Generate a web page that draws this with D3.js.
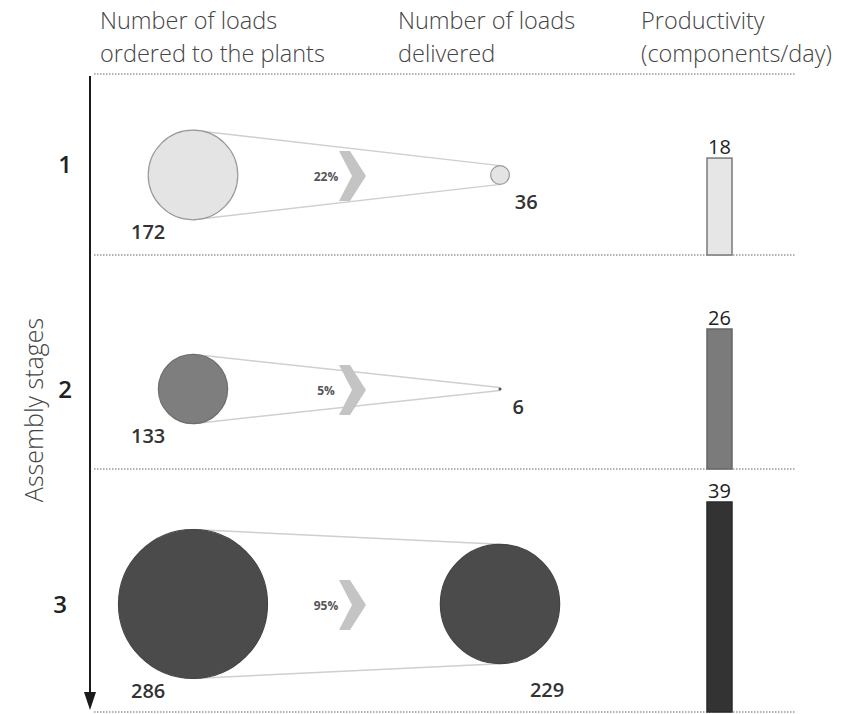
<!DOCTYPE html>
<html>
<head>
<meta charset="utf-8">
<script src="https://cdn.jsdelivr.net/npm/d3@7"></script>
<style>
  html, body { margin: 0; padding: 0; background: #fff; }
  svg { display: block; }
  text { font-family: "Open Sans", "Noto Sans", sans-serif; }
</style>
</head>
<body>
<svg id="chart" width="849" height="714"></svg>
<script>
// Assembly stages and what happened at each one
const stages = ["1", "2", "3"];
const loadsOrdered = [172, 133, 286];
const loadsDelivered = [36, 6, 229];
const deliveryShare = ["22%", "5%", "95%"];
const productivity = [18, 26, 39];

const headers = [
  ["Number of loads", "ordered to the plants"],
  ["Number of loads", "delivered"],
  ["Productivity", "(components/day)"]
];

// Visual styling per stage
const circleFill = ["#e4e4e4", "#7e7e7e", "#4b4b4b"];
const circleStroke = ["#9a9a9a", "#6e6e6e", "#444"];
const barFill = ["#e6e6e6", "#7b7b7b", "#333333"];
const barStroke = ["#7a7a7a", "#666", "#2a2a2a"];

// Layout
const rowEdges = [74, 255, 469, 712];
const rowCenterY = [175, 389, 604];
const orderedX = 193;
const deliveredX = 500;
const barX = 707, barW = 25;
const lineLeft = 94, lineRight = 795;

const svg = d3.select("#chart");

// Circle radius grows linearly with the number of loads
const r = d3.scaleLinear().domain([0, 286]).range([0, 74.5]);
// Bar height grows linearly with productivity
const barH = d3.scaleLinear().domain([0, 39]).range([0, 210]);

// Column headers
headers.forEach((lines, i) => {
  const x = [100, 398, 641][i];
  const t = svg.append("text")
    .attr("font-size", 23.5).attr("font-weight", 300)
    .attr("fill", "#444");
  lines.forEach((l, j) => {
    t.append("tspan").attr("x", x).attr("y", 29 + j * 33).text(l);
  });
});

// Row separators
svg.selectAll("line.sep").data(rowEdges).join("line")
  .attr("class", "sep")
  .attr("x1", lineLeft).attr("x2", lineRight)
  .attr("y1", d => d).attr("y2", d => d)
  .attr("stroke", "#999").attr("stroke-width", 1.5)
  .attr("stroke-dasharray", "1.5,1.5");

// Vertical stage axis with arrow
svg.append("line")
  .attr("x1", 90).attr("x2", 90).attr("y1", 76).attr("y2", 696)
  .attr("stroke", "#1a1a1a").attr("stroke-width", 2);
svg.append("path")
  .attr("d", "M84,692 L96,692 L90,710 Z")
  .attr("fill", "#1a1a1a");

svg.append("text")
  .attr("transform", "translate(33,410) rotate(-90)")
  .attr("text-anchor", "middle").attr("dominant-baseline", "central")
  .attr("font-size", 25).attr("font-weight", 300).attr("fill", "#444")
  .text("Assembly stages");

const rows = svg.selectAll("g.stage").data(stages).join("g").attr("class", "stage");

rows.each(function(s, i) {
  const g = d3.select(this);
  const cy = rowCenterY[i];
  const r1 = r(loadsOrdered[i]);
  const r2 = r(loadsDelivered[i]);

  // Stage number
  g.append("text")
    .attr("x", i === 2 ? 60 : 65).attr("y", i === 0 ? 163 : cy - 1)
    .attr("text-anchor", "middle").attr("dominant-baseline", "central")
    .attr("font-size", 24).attr("font-weight", 600).attr("fill", "#222")
    .text(s);

  // Funnel lines joining the two circles
  g.append("line")
    .attr("x1", orderedX).attr("y1", cy - r1)
    .attr("x2", deliveredX).attr("y2", cy - r2)
    .attr("stroke", "#cfcfcf").attr("stroke-width", 1.5);
  g.append("line")
    .attr("x1", orderedX).attr("y1", cy + r1)
    .attr("x2", deliveredX).attr("y2", cy + r2)
    .attr("stroke", "#cfcfcf").attr("stroke-width", 1.5);

  // Loads ordered
  g.append("circle")
    .attr("cx", orderedX).attr("cy", cy).attr("r", r1)
    .attr("fill", circleFill[i]).attr("stroke", circleStroke[i]).attr("stroke-width", 1.2);
  g.append("text")
    .attr("x", orderedX - 62).attr("y", cy + r1 + 19)
    .attr("font-size", 20).attr("font-weight", 600).attr("fill", "#333")
    .text(loadsOrdered[i]);

  // Loads delivered
  g.append("circle")
    .attr("cx", deliveredX).attr("cy", cy).attr("r", Math.max(r2, 1.5))
    .attr("fill", i === 1 ? "#555" : circleFill[i])
    .attr("stroke", i === 1 ? "none" : circleStroke[i]).attr("stroke-width", 1.2);
  g.append("text")
    .attr("x", deliveredX + r2 * 0.3 + 12).attr("y", cy + r2 + 23 + r2 * 0.18)
    .attr("font-size", 20).attr("font-weight", 600).attr("fill", "#333")
    .text(loadsDelivered[i]);

  // Chevron with the delivered share
  const cx0 = 339, cc = cy + 1;
  g.append("path")
    .attr("d", `M${cx0},${cc - 25} L${cx0 + 11},${cc - 25} L${cx0 + 27},${cc} L${cx0 + 11},${cc + 25} L${cx0},${cc + 25} L${cx0 + 13},${cc} Z`)
    .attr("fill", "#c4c4c4");
  g.append("text")
    .attr("x", 326).attr("y", cc)
    .attr("text-anchor", "middle").attr("dominant-baseline", "central")
    .attr("font-size", 12).attr("font-weight", 700).attr("fill", "#555")
    .text(deliveryShare[i]);

  // Productivity bar
  const bottom = rowEdges[i + 1];
  const h = barH(productivity[i]);
  g.append("rect")
    .attr("x", barX).attr("y", bottom - h).attr("width", barW).attr("height", h)
    .attr("fill", barFill[i]).attr("stroke", barStroke[i]).attr("stroke-width", 1.5);
  g.append("text")
    .attr("x", barX + barW / 2).attr("y", bottom - h - 4)
    .attr("text-anchor", "middle")
    .attr("font-size", 20).attr("font-weight", 500).attr("fill", "#222")
    .text(productivity[i]);
});
</script>
</body>
</html>
